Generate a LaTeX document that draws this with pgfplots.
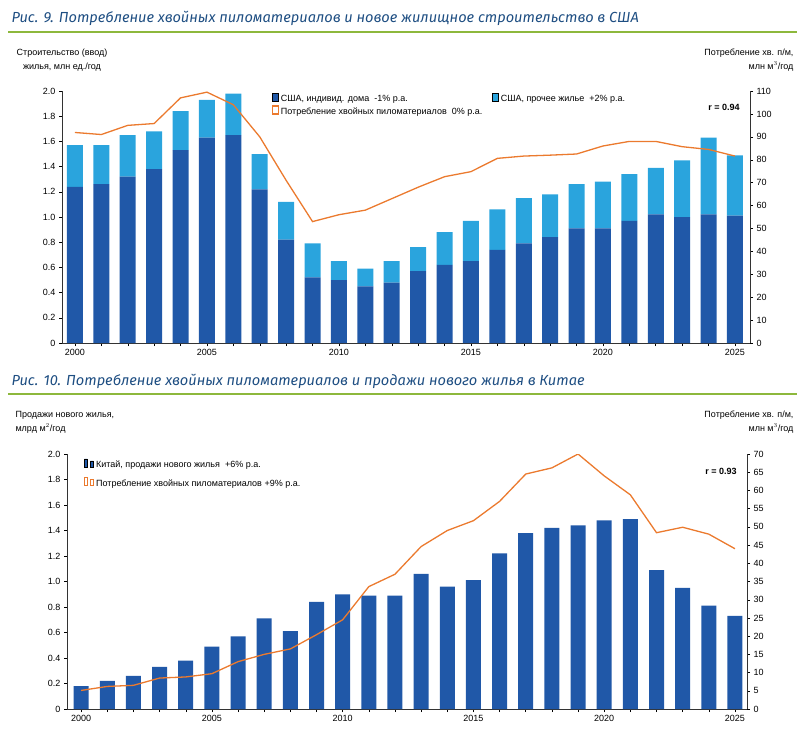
\documentclass[border=0pt]{standalone}
\usepackage{pgfplots}
\pgfplotsset{compat=1.18}
\usepackage{fontspec}
\setmainfont{Liberation Sans}
\newfontfamily\titlefont{Fira Sans}
\definecolor{dblue}{HTML}{2058A8}
\definecolor{lblue}{HTML}{2AA4DD}
\definecolor{orng}{HTML}{EB7A2E}
\definecolor{ttl}{HTML}{1E4E82}
\definecolor{grn}{HTML}{8DB83C}
\begin{document}
\begin{tikzpicture}[x=1pt,y=1pt]
\path[use as bounding box] (0,0) rectangle (805,-740);
\pgfplotsset{
 base/.style={scale only axis, width=688pt,
  axis x line*=bottom, axis y line*=left,
  tick align=outside, tick style={black,thin}, major tick length=3pt,
  ticklabel style={font=\fontsize{9}{10}\selectfont},
  /pgf/number format/assume math mode=true,
  axis line style={black!80}},
}
% ---- titles
\node[anchor=west,text=ttl,font=\titlefont\itshape\fontsize{14.6}{16}\selectfont] at (8,-18) {Рис. 9. Потребление хвойных пиломатериалов и новое жилищное строительство в США};
\draw[grn,line width=2pt] (8,-32) -- (797,-32);
\node[anchor=west,text=ttl,font=\titlefont\itshape\fontsize{14.6}{16}\selectfont] at (8,-381) {Рис. 10. Потребление хвойных пиломатериалов и продажи нового жилья в Китае};
\draw[grn,line width=2pt] (8,-394) -- (797,-394);
% ---- axis titles
\node[align=center,font=\fontsize{9}{14}\selectfont] at (62,-60) {Строительство (ввод)\\жилья, млн ед./год};
\node[align=right,anchor=east,font=\fontsize{9}{14}\selectfont] at (797,-60) {Потребление хв. п/м,\\млн м$^3$/год};
\node[align=left,anchor=west,font=\fontsize{9}{14}\selectfont] at (12,-422) {Продажи нового жилья,\\млрд м$^2$/год};
\node[align=right,anchor=east,font=\fontsize{9}{14}\selectfont] at (797,-422) {Потребление хв. п/м,\\млн м$^3$/год};
% ---- top chart
\begin{axis}[base, at={(62pt,-343pt)}, anchor=south west, height=252pt,
  xmin=1999.51, xmax=2025.57, ymin=0, ymax=2.0,
  ybar stacked, bar width=16pt,
  xtick={2000,2005,...,2025}, minor xtick={2000,...,2025},
  minor tick length=3pt,
  x tick label style={/pgf/number format/1000 sep={}},
  ytick={0,0.2,...,2.0},
  yticklabels={0,0.2,0.4,0.6,0.8,1.0,1.2,1.4,1.6,1.8,2.0},
  legend style={at={(0.3,1.0)},anchor=north west,draw=none,fill=none,font=\fontsize{9}{10}\selectfont,
   /tikz/every even column/.append style={column sep=8pt}},
  legend columns=2, legend cell align=left]
\addplot[fill=dblue,draw=none] coordinates {(2000,1.24)(2001,1.26)(2002,1.32)(2003,1.38)(2004,1.53)(2005,1.63)(2006,1.65)(2007,1.22)(2008,0.82)(2009,0.52)(2010,0.50)(2011,0.45)(2012,0.48)(2013,0.57)(2014,0.62)(2015,0.65)(2016,0.74)(2017,0.79)(2018,0.84)(2019,0.91)(2020,0.91)(2021,0.97)(2022,1.02)(2023,1.00)(2024,1.02)(2025,1.01)};
\addlegendentry{США, индивид. дома\ \ -1\% р.а.}
\addplot[fill=lblue,draw=none] coordinates {(2000,0.33)(2001,0.31)(2002,0.33)(2003,0.30)(2004,0.31)(2005,0.30)(2006,0.33)(2007,0.28)(2008,0.30)(2009,0.27)(2010,0.15)(2011,0.14)(2012,0.17)(2013,0.19)(2014,0.26)(2015,0.32)(2016,0.32)(2017,0.36)(2018,0.34)(2019,0.35)(2020,0.37)(2021,0.37)(2022,0.37)(2023,0.45)(2024,0.61)(2025,0.48)};
\addlegendentry{США, прочее жилье\ \ +2\% р.а.}
\addlegendimage{orng,line width=1.3pt}
\addlegendentry{Потребление хвойных пиломатериалов\ \ 0\% р.а.}
\end{axis}
\begin{axis}[base, at={(62pt,-343pt)}, anchor=south west, height=252pt,
  xmin=1999.51, xmax=2025.57, ymin=0, ymax=110,
  axis x line=none, axis y line*=right, ytick={0,10,...,110}]
\addplot[orng,line width=1.3pt,mark=none] coordinates {(2000,91.9)(2001,91)(2002,95)(2003,95.8)(2004,107)(2005,109.5)(2006,104)(2007,90)(2008,71)(2009,53)(2010,56)(2011,58)(2012,63)(2013,68)(2014,72.6)(2015,74.8)(2016,80.6)(2017,81.6)(2018,82)(2019,82.5)(2020,86)(2021,88)(2022,88)(2023,85.7)(2024,84.5)(2025,81.6)};
\node[anchor=north east,font=\bfseries\fontsize{9}{10}\selectfont] at (rel axis cs:0.99,0.96) {r = 0.94};
\end{axis}
% ---- bottom chart
\begin{axis}[base, at={(67pt,-709pt)}, anchor=south west, width=680pt, height=255pt,
  xmin=1999.46, xmax=2025.46, ymin=0, ymax=2.0,
  ybar, bar width=15pt,
  xtick={2000,2005,...,2025}, minor xtick={2000,...,2025},
  minor tick length=3pt,
  x tick label style={/pgf/number format/1000 sep={}},
  ytick={0,0.2,...,2.0},
  yticklabels={0,0.2,0.4,0.6,0.8,1.0,1.2,1.4,1.6,1.8,2.0},
  legend style={at={(0.02,0.99)},anchor=north west,draw=none,fill=none,font=\fontsize{9}{10}\selectfont,row sep=6pt},
  legend cell align=left]
\addplot[fill=dblue,draw=none] coordinates {(2000,0.18)(2001,0.22)(2002,0.26)(2003,0.33)(2004,0.38)(2005,0.49)(2006,0.57)(2007,0.71)(2008,0.61)(2009,0.84)(2010,0.90)(2011,0.89)(2012,0.89)(2013,1.06)(2014,0.96)(2015,1.01)(2016,1.22)(2017,1.38)(2018,1.42)(2019,1.44)(2020,1.48)(2021,1.49)(2022,1.09)(2023,0.95)(2024,0.81)(2025,0.73)};
\addlegendentry{Китай, продажи нового жилья\ \ +6\% р.а.}
\addlegendimage{orng,line width=1.3pt}
\addlegendentry{Потребление хвойных пиломатериалов +9\% р.а.}
\end{axis}
\begin{axis}[base, at={(67pt,-709pt)}, anchor=south west, width=680pt, height=255pt,
  xmin=1999.46, xmax=2025.46, ymin=0, ymax=70,
  axis x line=none, axis y line*=right, ytick={0,5,...,70}]
\addplot[orng,line width=1.3pt,mark=none] coordinates {(2000,5.1)(2001,6.2)(2002,6.5)(2003,8.5)(2004,8.8)(2005,9.7)(2006,13)(2007,15)(2008,16.5)(2009,20.4)(2010,24.5)(2011,33.6)(2012,37)(2013,44.6)(2014,49)(2015,51.7)(2016,57)(2017,64.5)(2018,66.2)(2019,70)(2020,64)(2021,58.8)(2022,48.4)(2023,49.9)(2024,48)(2025,44)};
\node[anchor=north east,font=\bfseries\fontsize{9}{10}\selectfont] at (rel axis cs:0.99,0.96) {r = 0.93};
\end{axis}
\end{tikzpicture}
\end{document}
